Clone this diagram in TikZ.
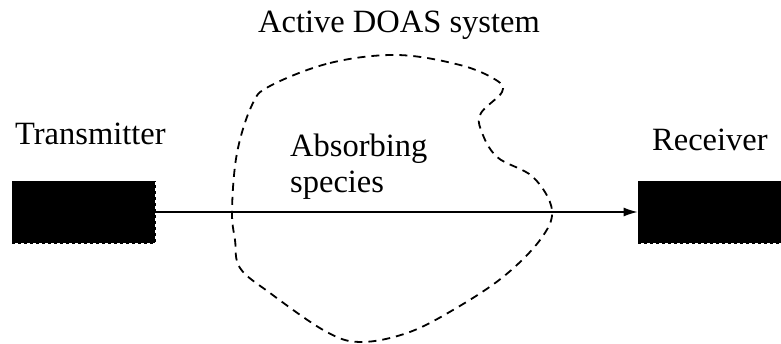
\documentclass[tikz,border=0pt]{standalone}
\usepackage{fontspec}
\setmainfont{Liberation Serif}
\usetikzlibrary{arrows.meta}
\tikzset{
	unitbox/.style={draw=black, fill=black, dashed, line width=0.8pt, minimum width=143pt, minimum height=62pt, inner sep=0pt},
	lbl/.style={anchor=base west, inner sep=0pt, font=\fontsize{32.5}{38}\selectfont}
}

\begin{document}
\begin{tikzpicture}[x=1pt, y=-1pt]
		%%%%% START %%%%%
		\useasboundingbox (0, 0) rectangle (781, 344);
		
		\node[unitbox] (tx) at (83.5, 212) {};
		\node[unitbox] (rx) at (709.5, 212) {};
		
		\node[lbl] (txlbl) at (15, 145) {Transmitter};
		\node[lbl] (rxlbl) at (652, 151) {Receiver};
		\node[lbl] (title) at (258, 33) {Active DOAS system};
		\node[lbl] (abs) at (290, 157) {Absorbing};
		\node[lbl] (spec) at (290, 193) {species};
		
		\draw[line width=1.8pt, dash pattern=on 8pt off 6pt] plot[smooth cycle, tension=0.6] coordinates {
			(270, 86) (330, 63) (397, 55) (460, 65) (496, 80) (502, 92) (481, 113) (481, 130)
			(497, 157) (533, 177) (552, 210) (540, 240) (503, 277) (453, 310) (407, 333)
			(360, 342) (325, 331) (270, 293) (240, 268) (235, 240) (232, 210) (237, 153) (252, 105)};
		
		\draw[line width=1.2pt, -{Latex[length=14pt, width=9pt]}] (tx.east) -- (rx.west);
		
		%%%%% END %%%%%
	\end{tikzpicture}
\end{document}
